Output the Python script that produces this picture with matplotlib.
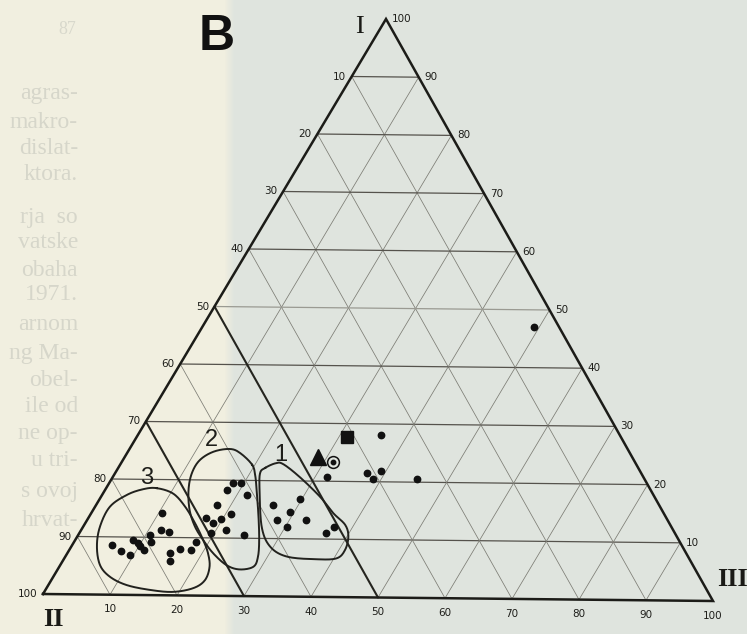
import numpy as np
import matplotlib
matplotlib.use('Agg')
import matplotlib.pyplot as plt
from matplotlib.transforms import Affine2D, offset_copy

# ---- data: ternary coordinates in percent (component I, component III; II = 100 - I - III)
group1_I = [16.8, 15.8, 14.7, 13.2, 13.3, 12.0, 11.1, 12.1]
group1_III = [29.8, 26.3, 29.3, 28.2, 32.5, 30.3, 36.6, 37.3]
group2_I = [19.5, 19.5, 18.3, 17.5, 15.7, 13.4, 12.5, 13.2, 14.2, 10.9, 11.4, 10.6]
group2_III = [18.4, 19.5, 18.1, 21.5, 18.0, 17.5, 18.9, 19.8, 20.8, 19.5, 21.5, 24.5]
group3_I = [8.6, 7.6, 6.9, 9.5, 9.0, 8.5, 7.8, 9.1, 10.4, 14.2, 11.2, 11.0, 7.4, 5.9, 8.0, 7.9, 9.3]
group3_III = [5.9, 7.7, 9.4, 8.6, 9.5, 10.1, 11.1, 11.4, 10.6, 10.5, 11.9, 13.2, 15.2, 15.9, 16.3, 18.1, 18.1]
other_I = [20.7, 28.1, 21.5, 20.5, 21.9, 20.6, 47.1]
other_III = [31.8, 36.1, 37.3, 38.8, 39.2, 45.3, 49.1]
square_I, square_III = [27.6], [31.2]
triangle_I, triangle_III = [24.2], [28.7]
ringdot_I, ringdot_III = [23.3], [31.3]

contour1_I = [22.2, 23.0, 22.9, 20.7, 17.3, 14.5, 12.5, 10.5, 8.2, 6.7, 6.5, 6.9, 8.6, 12.0, 18.4, 21.3]
contour1_III = [21.8, 22.9, 24.1, 27.7, 32.5, 35.9, 38.7, 40.2, 40.9, 40.4, 37.5, 32.9, 29.5, 26.5, 22.9, 21.5]
contour2_I = [22.7, 24.7, 25.4, 24.9, 23.4, 21.1, 18.2, 14.8, 11.9, 9.6, 7.3, 5.3, 4.6, 5.1, 6.8, 9.7, 13.8, 17.8, 20.7]
contour2_III = [19.6, 16.8, 14.9, 12.7, 11.4, 11.4, 12.4, 14.3, 16.6, 19.0, 21.7, 24.7, 27.0, 28.8, 28.6, 27.3, 25.1, 22.8, 21.1]
contour3_I = [18.5, 17.6, 15.4, 12.5, 9.6, 7.3, 5.0, 2.7, 1.3, 0.6, 0.9, 1.7, 3.1, 5.1, 8.3, 11.7, 15.2, 17.3, 18.3]
contour3_III = [7.5, 10.4, 13.3, 16.3, 19.0, 20.9, 22.3, 22.8, 21.8, 19.1, 15.5, 11.6, 8.4, 5.9, 3.8, 2.5, 2.2, 3.7, 5.6]

group_labels = ['1', '2', '3']
group_label_I = [24.5, 26.9, 20.2]
group_label_III = [23.0, 11.4, 5.2]

tick_values = [10, 20, 30, 40, 50, 60, 70, 80, 90, 100]
grid_values = [10, 20, 30, 40, 50, 60, 70, 80, 90]
thick_II_values = [50, 70]

ghost_lines = ['agras-', 'makro-', 'dislat-', 'ktora.', 'rja  so', 'vatske', 'obaha', '1971.',
               'arnom', 'ng Ma-', 'obel-', 'ile od', 'ne op-', 'u tri-', 's ovoj', 'hrvat-']
ghost_y = [93, 122, 148, 175, 217, 242, 270, 294, 325, 354, 380, 407, 433, 460, 492, 520]

# ---- figure
W, H = 747, 634
fig = plt.figure(figsize=(W / 100, H / 100), dpi=100)
ax = fig.add_axes([0, 0, 1, 1])

xs = np.arange(W)
t = np.clip((xs - 224) / 10.0, 0, 1)
left_c = np.array([241, 239, 224]) / 255.0
right_c = np.array([223, 228, 222]) / 255.0
bg = left_c[None, :] * (1 - t[:, None]) + right_c[None, :] * t[:, None]
ax.imshow(bg[None, :, :], extent=(0, W, H, 0), aspect='auto', zorder=0)
ax.set_xlim(0, W)
ax.set_ylim(H, 0)
ax.axis('off')

# ghost text bleeding through from the facing page
for s, y in zip(ghost_lines, ghost_y):
    ax.text(78, y, s, ha='right', va='center', fontsize=17, family='Liberation Serif',
            color='#d6d6ca', zorder=1)
ax.text(67, 30, '87', ha='center', va='center', fontsize=13, family='Liberation Serif',
        color='#d8d8cc', zorder=1)

# ternary -> page transform (input: (III, I))
tern = Affine2D(np.array([[6.70, 3.43, 43.0],
                          [0.07, -5.75, 594.0],
                          [0.0, 0.0, 1.0]])) + ax.transData


def seg(p, q, **kw):
    ax.plot([p[0], q[0]], [p[1], q[1]], transform=tern, solid_capstyle='round', **kw)


for k in grid_values:
    # constant I (horizontal)
    seg((0, k), (100 - k, k), color='#9a9a92' if k == 50 else '#55524c', lw=0.9, zorder=2)
    # constant III
    seg((k, 0), (k, 100 - k), color='#7c7c74', lw=0.55, zorder=2)
    # constant II
    if k in thick_II_values:
        seg((100 - k, 0), (0, 100 - k), color='#25251f', lw=1.5, zorder=3)
    else:
        seg((100 - k, 0), (0, 100 - k), color='#7c7c74', lw=0.55, zorder=2)

ax.plot([0, 100, 0, 0], [0, 0, 100, 0], transform=tern, color='#1c1c18', lw=1.8,
        solid_joinstyle='miter', zorder=4)


def closed_smooth(xv, yv, n=16):
    P = np.column_stack([xv, yv])
    m = len(P)
    out = []
    for i in range(m):
        p0, p1, p2, p3 = P[(i - 1) % m], P[i], P[(i + 1) % m], P[(i + 2) % m]
        for s in np.linspace(0, 1, n, endpoint=False):
            s2, s3 = s * s, s * s * s
            out.append(0.5 * ((2 * p1) + (-p0 + p2) * s + (2 * p0 - 5 * p1 + 4 * p2 - p3) * s2
                              + (-p0 + 3 * p1 - 3 * p2 + p3) * s3))
    out.append(out[0])
    out = np.array(out)
    return out[:, 0], out[:, 1]


for cI, cIII in [(contour1_I, contour1_III), (contour2_I, contour2_III), (contour3_I, contour3_III)]:
    sx, sy = closed_smooth(cIII, cI)
    ax.plot(sx, sy, transform=tern, color='#22221e', lw=1.4, zorder=5)

dot_kw = dict(ls='none', marker='o', ms=4.6, color='#111111', zorder=6, transform=tern)
ax.plot(group1_III, group1_I, **dot_kw)
ax.plot(group2_III, group2_I, **dot_kw)
ax.plot(group3_III, group3_I, **dot_kw)
ax.plot(other_III, other_I, **dot_kw)
ax.plot(square_III, square_I, ls='none', marker='s', ms=8.5, color='#111111', zorder=6, transform=tern)
ax.plot(triangle_III, triangle_I, ls='none', marker='^', ms=11, color='#111111', zorder=6, transform=tern)
ax.plot(ringdot_III, ringdot_I, ls='none', marker='o', ms=8.5, mfc='none', mec='#111111', mew=1.1,
        zorder=6, transform=tern)
ax.plot(ringdot_III, ringdot_I, ls='none', marker='o', ms=3.2, color='#111111', zorder=6, transform=tern)

for s, gI, gIII in zip(group_labels, group_label_I, group_label_III):
    ax.text(gIII, gI, s, transform=tern, ha='center', va='center', fontsize=17,
            family='Liberation Sans', color='#1e1e1a', zorder=7)

# tick labels
tk = dict(fontsize=7.5, family='DejaVu Sans', color='#1e1e1a', zorder=7)
tl = offset_copy(tern, fig=fig, x=-4, y=0, units='points')
tr = offset_copy(tern, fig=fig, x=4, y=0, units='points')
tb = offset_copy(tern, fig=fig, x=0, y=-7, units='points')
for v in tick_values:
    ax.text(0, 100 - v, str(v), transform=tl, ha='right', va='center', **tk)
    ax.text(100 - v, v, str(v), transform=tr, ha='left', va='center', **tk)
    ax.text(v, 0, str(v), transform=tb, ha='center', va='top', **tk)

# vertex names and panel letter
ax.text(359, 27, 'I', ha='center', va='center', fontsize=19, family='Liberation Serif',
        color='#1a1a16', zorder=7)
ax.text(53, 619, 'II', ha='center', va='center', fontsize=19, family='Liberation Serif',
        weight='bold', color='#1a1a16', zorder=7)
ax.text(732, 580, 'III', ha='center', va='center', fontsize=19, family='Liberation Serif',
        weight='bold', color='#1a1a16', zorder=7)
ax.text(217, 37, 'B', ha='center', va='center', fontsize=36, family='Liberation Sans',
        weight='bold', color='#111111', zorder=7)

fig.savefig('out.png', dpi=100)
